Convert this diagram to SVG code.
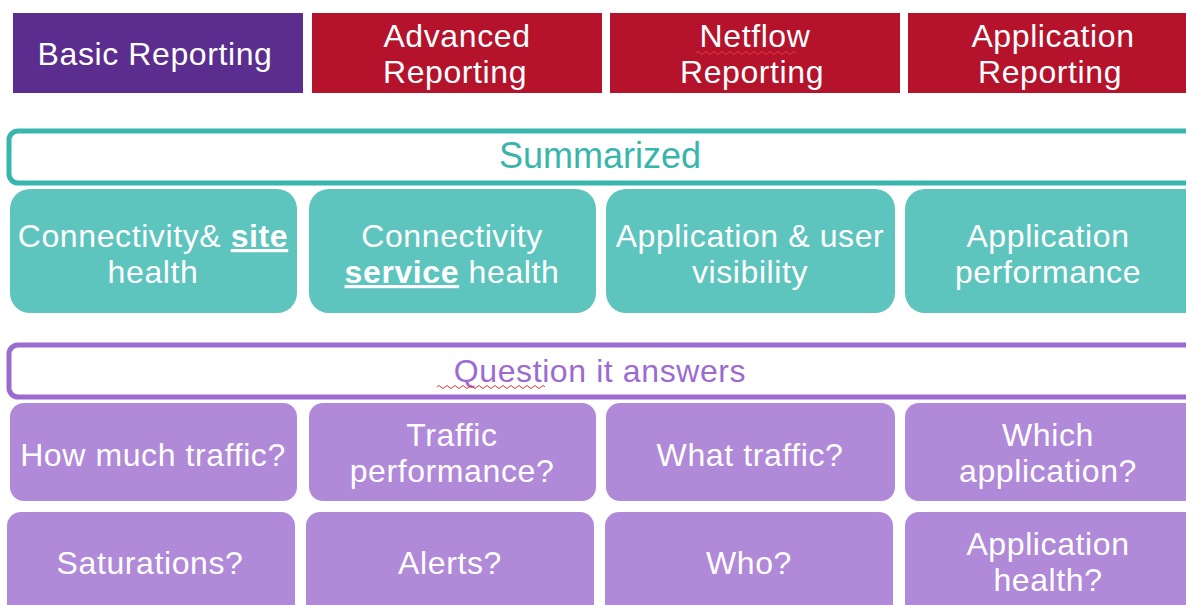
<svg xmlns="http://www.w3.org/2000/svg" width="1186" height="605" viewBox="0 0 1186 605">
<style>
text{font-family:"Liberation Sans",Arial,sans-serif;font-size:32px;letter-spacing:0.6px;text-anchor:middle;fill:#fff}
.hp{fill:#5B2D8E}
.hr{fill:#B5122B}
.tb{fill:#5EC4BE}
.pb{fill:#B189D9}
.bar-t{fill:#fff;stroke:#38B5AD;stroke-width:5}
.bar-p{fill:#fff;stroke:#9C6BD1;stroke-width:5}
.u{font-weight:bold;text-decoration:underline}
</style>
<rect width="1186" height="605" fill="#fff"/>
<g id="hdr-basic"><rect class="hp" x="13" y="13" width="290" height="80"/><text x="155" y="65">Basic Reporting</text></g>
<g id="hdr-advanced"><rect class="hr" x="312" y="13" width="290" height="80"/><text y="47"><tspan x="457">Advanced</tspan><tspan x="455" dy="36">Reporting</tspan></text></g>
<g id="hdr-netflow"><rect class="hr" x="610" y="13" width="290" height="80"/><text y="47"><tspan x="755">Netflow</tspan><tspan x="752" dy="36">Reporting</tspan></text><path d="M696 53 q2 -3 4 0 t4 0 t4 0 t4 0 t4 0 t4 0 t4 0 t4 0 t4 0 t4 0 t4 0 t4 0 t4 0 t4 0 t4 0 t4 0 t4 0 t4 0 t4 0 t4 0 t4 0 t4 0 t4 0 t4 0 t4 0" fill="none" stroke="#E23A3A" stroke-width="1"/></g>
<g id="hdr-app"><rect class="hr" x="908" y="13" width="290" height="80"/><text y="47"><tspan x="1053">Application</tspan><tspan x="1050" dy="36">Reporting</tspan></text></g>
<g id="bar-summarized"><rect class="bar-t" x="9" y="131" width="1200" height="52" rx="9"/><text x="600" y="168" style="fill:#38B5AD;font-size:36px;letter-spacing:0">Summarized</text></g>
<g id="s1"><rect class="tb" x="10" y="189" width="287" height="124" rx="20"/><text y="247"><tspan x="153">Connectivity&amp; <tspan class="u">site</tspan></tspan><tspan x="153" dy="36">health</tspan></text></g>
<g id="s2"><rect class="tb" x="309" y="189" width="287" height="124" rx="20"/><text y="247"><tspan x="452">Connectivity</tspan><tspan x="452" dy="36"><tspan class="u">service</tspan> health</tspan></text></g>
<g id="s3"><rect class="tb" x="606" y="189" width="289" height="124" rx="20"/><text y="247"><tspan x="750">Application &amp; user</tspan><tspan x="750" dy="36">visibility</tspan></text></g>
<g id="s4"><rect class="tb" x="905" y="189" width="300" height="124" rx="20"/><text y="247"><tspan x="1048">Application</tspan><tspan x="1048" dy="36">performance</tspan></text></g>
<g id="bar-question"><rect class="bar-p" x="9" y="345" width="1200" height="52" rx="9"/><text x="600" y="382" style="fill:#9C6BD1">Question it answers</text><path d="M437 387 q2 -3 4 0 t4 0 t4 0 t4 0 t4 0 t4 0 t4 0 t4 0 t4 0 t4 0 t4 0 t4 0 t4 0 t4 0 t4 0 t4 0 t4 0 t4 0 t4 0 t4 0 t4 0 t4 0 t4 0 t4 0 t4 0 t4 0 t4 0" fill="none" stroke="#E23A3A" stroke-width="1"/></g>
<g id="q1"><rect class="pb" x="10" y="403" width="287" height="98" rx="14"/><text x="153" y="466">How much traffic?</text></g>
<g id="q2"><rect class="pb" x="309" y="403" width="287" height="98" rx="14"/><text y="446"><tspan x="452">Traffic</tspan><tspan x="452" dy="36">performance?</tspan></text></g>
<g id="q3"><rect class="pb" x="606" y="403" width="289" height="98" rx="14"/><text x="750" y="466">What traffic?</text></g>
<g id="q4"><rect class="pb" x="905" y="403" width="300" height="98" rx="14"/><text y="446"><tspan x="1048">Which</tspan><tspan x="1048" dy="36">application?</tspan></text></g>
<g id="r1"><rect class="pb" x="7" y="512" width="288" height="110" rx="14"/><text x="150" y="574">Saturations?</text></g>
<g id="r2"><rect class="pb" x="306" y="512" width="288" height="110" rx="14"/><text x="450" y="574">Alerts?</text></g>
<g id="r3"><rect class="pb" x="605" y="512" width="288" height="110" rx="14"/><text x="749" y="574">Who?</text></g>
<g id="r4"><rect class="pb" x="905" y="512" width="300" height="110" rx="14"/><text y="555"><tspan x="1048">Application</tspan><tspan x="1048" dy="36">health?</tspan></text></g>
<g id="connectors"></g>
</svg>
